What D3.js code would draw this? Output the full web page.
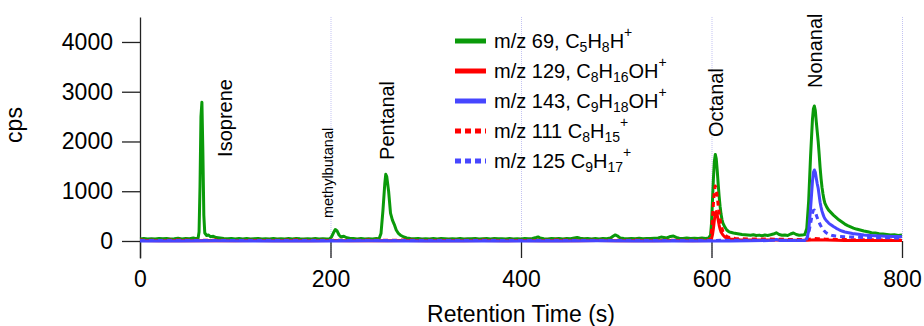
<!DOCTYPE html>
<html>
<head>
<meta charset="utf-8">
<script src="https://cdn.jsdelivr.net/npm/d3@7"></script>
<style>
body { margin: 0; background: #fff; }
text { font-family: "Liberation Sans", Arial, sans-serif; fill: #000; }
</style>
</head>
<body>
<svg id="chart" width="924" height="326"></svg>
<script>
// tick values
const xTicks = [0, 200, 400, 600, 800];
const yTicks = [0, 1000, 2000, 3000, 4000];

// [retention time (s), cps]
const mz69 = [[0,42],[4,50],[8,40],[12,47],[16,38],[20,52],[24,44],[28,48],[32,40],[36,46],[40,55],[44,42],[48,50],[52,44],[56,60],[59,48],[61,55],[62,180],[63,1100],[64,2500],[65,2790],[66,1800],[67,520],[68,160],[70,110],[72,120],[74,85],[77,95],[80,70],[84,60],[88,50],[92,45],[96,52],[100,40],[104,48],[108,42],[112,50],[116,38],[120,45],[124,52],[128,40],[132,47],[136,42],[140,50],[144,38],[148,46],[152,42],[156,48],[160,40],[164,52],[168,44],[172,38],[176,47],[180,42],[184,50],[188,40],[192,46],[196,38],[199,44],[201,80],[203,160],[205,230],[207,200],[209,120],[211,80],[214,95],[217,65],[220,55],[224,48],[228,42],[232,50],[236,40],[240,46],[244,42],[248,48],[251,45],[253,150],[255,600],[257,1150],[258,1340],[259,1300],[261,1000],[263,560],[265,420],[267,330],[269,220],[271,160],[274,110],[277,80],[280,60],[284,50],[288,45],[292,52],[296,40],[300,46],[304,40],[308,48],[312,42],[316,50],[320,44],[324,38],[328,47],[332,42],[336,52],[340,40],[344,46],[348,43],[352,50],[356,38],[360,45],[364,48],[368,40],[372,52],[376,44],[380,47],[384,40],[388,50],[392,42],[396,46],[400,40],[404,48],[408,44],[412,52],[416,70],[418,82],[420,60],[424,46],[428,42],[432,50],[436,44],[440,48],[444,40],[448,52],[452,45],[456,60],[459,72],[462,55],[466,44],[470,50],[474,42],[478,48],[482,40],[486,52],[490,46],[494,60],[497,100],[499,122],[501,105],[504,62],[508,48],[512,44],[516,52],[520,46],[524,55],[528,44],[532,50],[536,48],[540,56],[544,62],[547,78],[550,70],[553,60],[557,92],[560,100],[563,72],[566,55],[570,52],[574,60],[578,48],[582,55],[586,50],[590,58],[594,52],[597,60],[599,120],[600,350],[601,800],[602,1250],[603,1600],[604,1740],[605,1650],[606,1420],[607,1150],[608,900],[609,700],[610,540],[611,430],[612,360],[614,280],[616,220],[618,190],[620,175],[623,160],[626,150],[629,140],[632,130],[635,125],[638,120],[641,115],[644,125],[647,110],[650,118],[653,105],[656,120],[659,112],[662,125],[665,140],[668,165],[671,130],[674,115],[677,120],[680,110],[683,140],[686,160],[689,130],[692,115],[695,118],[698,130],[700,250],[702,800],[704,1700],[706,2450],[707,2660],[708,2714],[709,2620],[710,2400],[711,2200],[712,2000],[713,1750],[714,1480],[715,1260],[716,1080],[717,950],[718,840],[719,760],[721,680],[723,620],[725,580],[728,520],[731,470],[734,420],[737,380],[740,340],[743,310],[746,285],[749,260],[752,240],[756,220],[760,200],[764,185],[768,165],[772,160],[776,145],[780,140],[784,130],[788,120],[792,125],[796,110],[800,120]];

const mz129 = [[0,10],[20,5],[40,12],[60,6],[80,10],[100,4],[120,9],[140,6],[160,11],[180,5],[200,8],[220,4],[240,10],[260,6],[280,9],[300,5],[320,10],[340,6],[360,8],[380,4],[400,9],[420,6],[440,10],[460,5],[480,8],[500,6],[520,10],[540,5],[560,9],[580,7],[598,10],[600,40],[601,120],[602,250],[603,420],[604,560],[605,590],[606,520],[607,420],[608,320],[609,240],[610,180],[612,120],[614,80],[617,55],[620,40],[625,30],[630,25],[640,20],[650,18],[660,22],[670,18],[680,15],[690,15],[700,15],[705,20],[710,25],[720,18],[740,12],[760,10],[780,10],[800,8]];

const mz143 = [[0,2],[40,0],[80,3],[120,0],[160,2],[200,0],[240,3],[280,0],[320,2],[360,0],[400,2],[440,0],[480,3],[520,0],[560,2],[600,0],[620,2],[640,5],[660,8],[668,30],[672,10],[690,8],[698,10],[700,40],[702,200],[704,650],[706,1200],[707,1380],[708,1427],[709,1380],[710,1260],[711,1150],[712,1060],[713,920],[714,780],[715,680],[716,600],[717,540],[718,490],[719,450],[721,400],[723,360],[725,330],[728,290],[731,255],[734,225],[737,200],[740,180],[744,165],[748,150],[752,140],[756,130],[760,120],[766,112],[772,105],[778,100],[784,95],[790,90],[796,88],[800,86]];

const mz111 = [[0,18],[20,12],[40,20],[60,14],[80,18],[100,10],[120,16],[140,12],[160,20],[180,14],[200,16],[220,12],[240,18],[260,14],[280,20],[300,12],[320,16],[340,14],[360,18],[380,12],[400,16],[420,14],[440,20],[460,12],[480,16],[500,14],[520,18],[540,12],[560,16],[580,14],[598,20],[599,60],[600,200],[601,450],[602,750],[603,1000],[604,1105],[605,1050],[606,900],[607,720],[608,560],[609,420],[610,320],[611,250],[612,190],[614,130],[616,95],[618,75],[621,60],[625,50],[630,45],[640,40],[650,38],[660,40],[670,35],[680,32],[690,30],[700,30],[705,40],[708,50],[712,45],[720,35],[740,28],[760,25],[780,22],[800,20]];

const mz125 = [[0,10],[40,8],[80,12],[120,8],[160,10],[200,8],[240,12],[280,8],[320,10],[360,8],[400,12],[440,8],[480,10],[520,8],[560,12],[600,10],[610,14],[620,12],[640,14],[660,15],[680,14],[698,15],[700,40],[702,150],[704,350],[706,560],[707,615],[708,620],[709,580],[710,520],[712,420],[714,330],[716,260],[718,210],[720,170],[723,135],[726,115],[730,100],[735,90],[740,85],[750,78],[760,72],[770,68],[780,65],[790,62],[800,60]];

// legend text: _n = subscript, ^+ = superscript
const seriesLabels = ["m/z 69, C_5H_8H^+", "m/z 129, C_8H_16OH^+", "m/z 143, C_9H_18OH^+", "m/z 111 C_8H_15^+", "m/z 125 C_9H_17^+"];

// peak names, placed at [time, cps] where the rotated text starts
const peakNames = ["Isoprene", "methylbutanal", "Pentanal", "Octanal", "Nonanal"];
const peakPos = [[89, 1690], [197.5, 460], [259.5, 1630], [605, 2090], [709, 3075]];

const series = [
    {data: mz69,  color: "#0a9a0a", dash: null},
    {data: mz129, color: "#ff0000", dash: null},
    {data: mz143, color: "#4646ff", dash: null},
    {data: mz111, color: "#ff0000", dash: "5,4"},
    {data: mz125, color: "#4646ff", dash: "5,4"}
];

let svg = d3.select("#chart");

let x = d3.scaleLinear().domain([0, 800]).range([140, 902]);
let y = d3.scaleLinear().domain([-342, 4502]).range([258, 17]);

// dotted grid at the x ticks
svg.append("g")
    .selectAll("line")
    .data(xTicks.filter(d => d > 0))
    .enter()
    .append("line")
    .attr("x1", d => x(d) + 0.5)
    .attr("x2", d => x(d) + 0.5)
    .attr("y1", y.range()[1])
    .attr("y2", y.range()[0])
    .style("stroke", "#c3c3f2")
    .style("stroke-width", 1)
    .style("stroke-dasharray", "1,1");

// x axis: ticks point up, no axis line
let xAxis = svg.append("g")
    .attr("transform", "translate(0," + y.range()[0] + ")")
    .call(d3.axisBottom(x).tickValues(xTicks).tickFormat(d3.format("d"))
        .tickSizeInner(-17).tickSizeOuter(0).tickPadding(13));
xAxis.select(".domain").remove();

// y axis
let yAxis = svg.append("g")
    .attr("transform", "translate(" + x.range()[0] + ",0)")
    .call(d3.axisLeft(y).tickValues(yTicks).tickFormat(d3.format("d"))
        .tickSize(18).tickSizeOuter(0).tickPadding(9));

svg.selectAll(".tick line, .domain").style("stroke", "#222").style("stroke-width", 1.3);
svg.selectAll(".tick text")
    .style("font-family", '"Liberation Sans", Arial, sans-serif')
    .style("font-size", "23px")
    .style("fill", "#000");

// axis titles
svg.append("text")
    .attr("transform", "translate(22,125) rotate(-90)")
    .attr("text-anchor", "middle")
    .style("font-size", "23px")
    .text("cps");

svg.append("text")
    .attr("x", (x.range()[0] + x.range()[1]) / 2)
    .attr("y", 322)
    .attr("text-anchor", "middle")
    .style("font-size", "23px")
    .text("Retention Time (s)");

// traces
let line = d3.line()
    .x(d => x(d[0]))
    .y(d => y(d[1]));

svg.append("g")
    .selectAll("path")
    .data(series)
    .enter()
    .append("path")
    .attr("d", d => line(d.data))
    .style("fill", "none")
    .style("stroke", d => d.color)
    .style("stroke-width", 3)
    .style("stroke-linejoin", "round")
    .style("stroke-dasharray", d => d.dash);

// peak labels
svg.append("g")
    .selectAll("text")
    .data(peakNames)
    .enter()
    .append("text")
    .attr("transform", (d, i) => "translate(" + x(peakPos[i][0]) + "," + y(peakPos[i][1]) + ") rotate(-90)")
    .attr("dy", "0.35em")
    .style("font-size", d => d === "methylbutanal" ? "14.5px" : "20px")
    .text(d => d);

// legend
let legend = svg.append("g").attr("transform", "translate(455,41)");

let rows = legend.selectAll("g")
    .data(series)
    .enter()
    .append("g")
    .attr("transform", (d, i) => "translate(0," + i * 30 + ")");

rows.append("line")
    .attr("x1", 0)
    .attr("x2", 31)
    .style("stroke", d => d.color)
    .style("stroke-width", 5)
    .style("stroke-dasharray", d => d.dash ? "6,4" : null);

rows.append("text")
    .attr("x", 39)
    .attr("y", 7)
    .style("font-size", "20px")
    .each(function(d, i) {
        let t = d3.select(this);
        let parts = seriesLabels[i].split(/(_\d+|\^\+)/).filter(p => p.length);
        let shift = 0;
        parts.forEach(p => {
            let span = t.append("tspan");
            let target = 0;
            let txt = p;
            if (p[0] === "_") { target = 4; txt = p.slice(1); span.style("font-size", "14px"); }
            else if (p[0] === "^") { target = -11; txt = p.slice(1); span.style("font-size", "14px"); }
            span.attr("dy", target - shift).text(txt);
            shift = target;
        });
    });
</script>
</body>
</html>
